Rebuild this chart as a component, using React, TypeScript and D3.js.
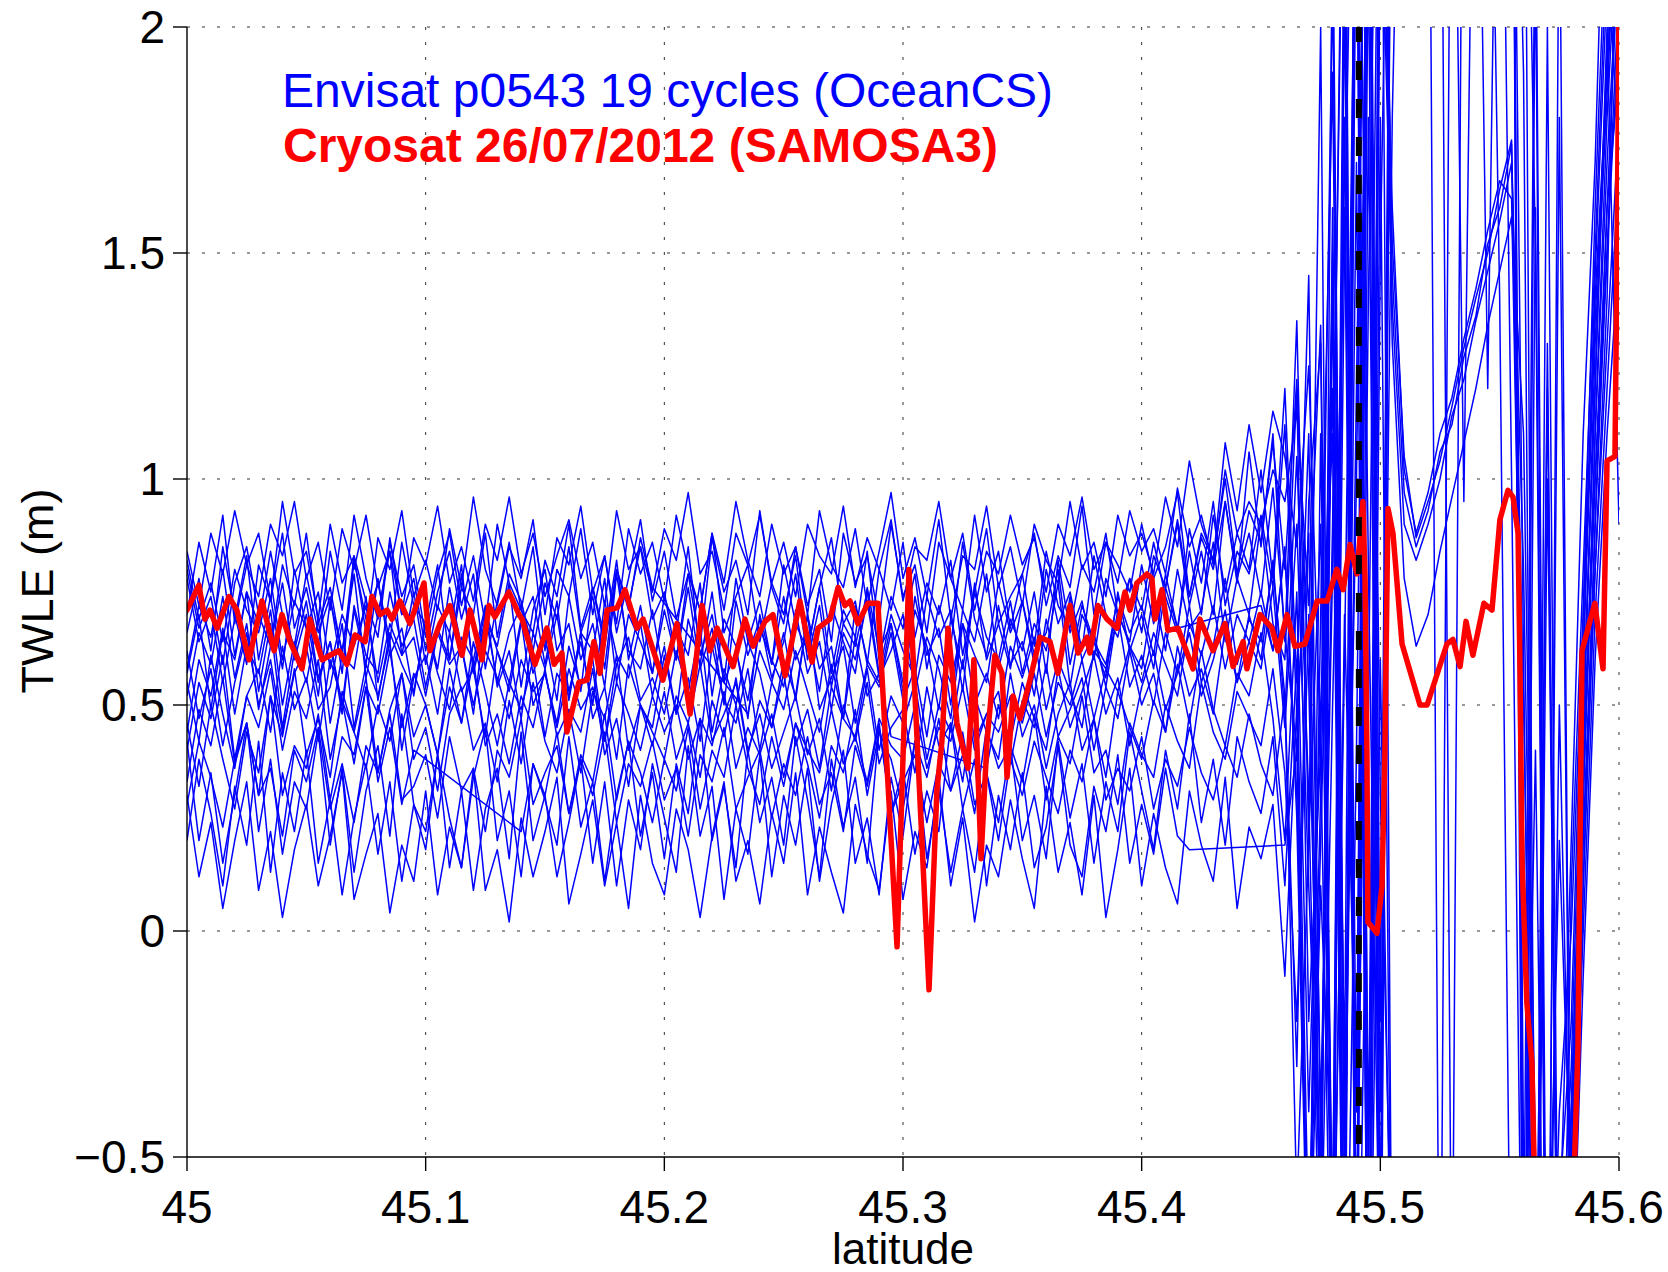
import React from 'react';
import * as d3 from 'd3';

// ---------- DATA ----------
const LAT = [
  45.000, 45.005, 45.010, 45.015, 45.020, 45.025, 45.030, 45.035, 45.040, 45.045,
  45.050, 45.055, 45.060, 45.065, 45.070, 45.075, 45.080, 45.085, 45.090, 45.095,
  45.100, 45.105, 45.110, 45.115, 45.120, 45.125, 45.130, 45.135, 45.140, 45.145,
  45.150, 45.155, 45.160, 45.165, 45.170, 45.175, 45.180, 45.185, 45.190, 45.195,
  45.200, 45.205, 45.210, 45.215, 45.220, 45.225, 45.230, 45.235, 45.240, 45.245,
  45.250, 45.255, 45.260, 45.265, 45.270, 45.275, 45.280, 45.285, 45.290, 45.295,
  45.300, 45.305, 45.310, 45.315, 45.320, 45.325, 45.330, 45.335, 45.340, 45.345,
  45.350, 45.355, 45.360, 45.365, 45.370, 45.375, 45.380, 45.385, 45.390, 45.395,
  45.400, 45.405, 45.410, 45.415, 45.420, 45.425, 45.430, 45.435, 45.440, 45.445,
  45.450, 45.455, 45.460, 45.465, 45.470, 45.475, 45.480, 45.485, 45.490, 45.495,
  45.500, 45.505, 45.510, 45.515, 45.520, 45.525, 45.530, 45.535, 45.540, 45.545,
  45.550, 45.555, 45.560, 45.565, 45.570, 45.575, 45.580, 45.585, 45.590, 45.595,
  45.600,
];

const CYCLE_01 = [
  0.84, 0.72, 0.88, 0.79, 0.93, 0.81, 0.74, 0.90, 0.83, 0.95,
  0.78, 0.86, 0.71, 0.89, 0.80, 0.92, 0.76, 0.84, 0.70, 0.87,
  0.81, 0.94, 0.77, 0.85, 0.73, 0.90, 0.82, 0.96, 0.79, 0.88,
  0.74, 0.83, 0.91, 0.78, 0.86, 0.72, 0.93, 0.80, 0.85, 0.75,
  0.89, 0.82, 0.97, 0.79, 0.84, 0.71, 0.88, 0.81, 0.92, 0.77,
  0.86, 0.74, 0.90, 0.83, 0.79, 0.94, 0.76, 0.87, 0.80, 0.91,
  0.73, 0.85, 0.82, 0.95, 0.78, 0.88, 0.71, 0.84, 0.79, 0.92,
  0.81, 0.87, 0.75, 0.90, 0.83, 0.96, 0.80, 0.86, 0.77, 0.93,
  0.84, 0.89, 0.79, 0.98, 0.85, 0.92, 0.81, 1.02, 0.88, 0.95,
  0.90, 1.02, 0.95, 1.15, 0.72, 1.34, -0.70, 2.40, -0.90, 2.80,
  2.60, 1.45, 0.97, 0.85, 0.93, 1.06, 1.12, 1.27, 1.36, 1.52,
  1.60, 1.74, 0.50, -0.90, -1.60, -1.10, -0.70, 0.40, 1.30, 1.85,
  2.40,
];
const CYCLE_02 = [
  0.66, 0.78, 0.62, 0.85, 0.70, 0.59, 0.81, 0.73, 0.88, 0.67,
  0.76, 0.63, 0.84, 0.71, 0.92, 0.78, 0.69, 0.86, 0.74, 0.81,
  0.65, 0.79, 0.88, 0.72, 0.83, 0.68, 0.90, 0.77, 0.71, 0.85,
  0.62, 0.80, 0.74, 0.89, 0.70, 0.83, 0.66, 0.78, 0.91, 0.73,
  0.84, 0.69, 0.79, 0.63, 0.87, 0.75, 0.82, 0.70, 0.93, 0.76,
  0.68, 0.85, 0.72, 0.80, 0.64, 0.88, 0.77, 0.83, 0.69, 0.90,
  0.74, 0.81, 0.66, 0.86, 0.78, 0.71, 0.92, 0.75, 0.84, 0.67,
  0.79, 0.88, 0.72, 0.83, 0.76, 0.94, 0.70, 0.86, 0.81, 0.75,
  0.90, 0.78, 0.85, 0.97, 0.74, 0.88, 0.82, 1.00, 0.79, 0.93,
  0.86, 1.08, 0.80, 1.22, 0.55, -0.60, 1.60, -0.80, 2.70, -0.50,
  2.50, 1.60, 1.02, 0.88, 0.97, 1.10, 1.18, 1.31, 1.42, 1.55,
  1.66, 1.62, 0.20, -1.00, -1.40, -0.80, -0.30, 0.60, 1.45, 2.10,
  2.60,
];
const CYCLE_03 = [
  0.58, 0.72, 0.65, 0.80, 0.61, 0.75, 0.68, 0.84, 0.70, 0.63,
  0.79, 0.66, 0.74, 0.57, 0.82, 0.69, 0.77, 0.64, 0.86, 0.72,
  0.68, 0.81, 0.60, 0.76, 0.70, 0.88, 0.65, 0.79, 0.73, 0.62,
  0.77, 0.69, 0.85, 0.66, 0.74, 0.58, 0.80, 0.71, 0.87, 0.76,
  null, null, null, null, null, null, null, 0.48, 0.62, 0.55,
  0.66, 0.51, 0.70, 0.58, 0.63, 0.47, 0.72, 0.60, 0.55, 0.68,
  0.53, 0.74, 0.61, 0.67, 0.50, 0.71, 0.64, 0.79, 0.58, 0.69,
  0.62, 0.75, 0.57, 0.82, 0.66, 0.73, 0.60, 0.78, 0.70, 0.64,
  0.81, 0.68, 0.76, 0.90, 0.72, 0.84, 0.70, 0.95, 0.78, 0.88,
  0.74, 0.98, 0.66, 0.40, 1.10, -0.40, 0.90, 2.60, -1.00, 1.80,
  -0.80, 3.00, 3.00, 3.00, 3.00, -1.20, 3.00, 3.00, 3.00, 3.00,
  3.00, 3.00, -0.80, 2.40, -1.20, 1.80, -0.90, 0.10, 0.90, 1.60,
  2.20,
];
const CYCLE_04 = [
  0.78, 0.64, 0.71, 0.55, 0.69, 0.83, 0.60, 0.74, 0.58, 0.80,
  0.67, 0.52, 0.73, 0.62, 0.79, 0.56, 0.70, 0.84, 0.61, 0.75,
  0.59, 0.72, 0.66, 0.81, 0.57, 0.69, 0.63, 0.77, 0.54, 0.71,
  0.80, 0.62, 0.68, 0.53, 0.76, 0.65, 0.82, 0.60, 0.72, 0.57,
  0.74, 0.66, 0.85, 0.61, 0.70, 0.55, 0.78, 0.64, 0.73, 0.59,
  0.81, 0.68, 0.62, 0.76, 0.57, 0.71, 0.65, 0.84, 0.60, 0.74,
  0.67, 0.79, 0.58, 0.72, 0.63, 0.86, 0.69, 0.61, 0.77, 0.66,
  0.73, 0.59, 0.80, 0.68, 0.75, 0.62, 0.83, 0.70, 0.65, 0.78,
  0.71, 0.86, 0.74, 0.66, 0.89, 0.77, 0.95, 0.72, 0.84, 0.79,
  0.92, 0.76, 1.12, 0.48, 0.88, -0.70, 1.40, -0.30, 2.90, -1.20,
  2.40, 1.38, 0.90, 0.82, 0.90, 1.00, 1.14, 1.22, 1.35, 1.46,
  1.57, 1.70, 0.80, -0.70, -1.50, -0.60, -0.20, 0.70, 1.60, 2.30,
  2.00,
];
const CYCLE_05 = [
  0.52, 0.66, 0.59, 0.74, 0.56, 0.68, 0.49, 0.63, 0.77, 0.60,
  0.70, 0.55, 0.64, 0.48, 0.72, 0.61, 0.57, 0.75, 0.63, 0.69,
  0.54, 0.67, 0.60, 0.79, 0.58, 0.71, 0.62, 0.53, 0.68, 0.74,
  0.59, 0.73, 0.51, 0.66, 0.62, 0.78, 0.55, 0.70, 0.64, 0.57,
  0.71, 0.60, 0.76, 0.58, 0.67, 0.50, 0.73, 0.61, 0.69, 0.56,
  0.64, 0.79, 0.60, 0.72, 0.54, 0.68, 0.63, 0.75, 0.57, 0.70,
  0.62, 0.56, 0.74, 0.65, 0.71, 0.53, 0.77, 0.60, 0.68, 0.58,
  0.73, 0.61, 0.66, 0.80, 0.59, 0.72, 0.64, 0.56, 0.75, 0.62,
  0.70, 0.58, 0.76, 0.67, null, null, null, null, null, null,
  0.72, 0.62, 0.84, 0.30, -0.80, 0.70, 1.90, -0.60, 1.20, 3.00,
  -1.00, 3.00, 3.00, 3.00, 3.00, 3.00, 3.00, 3.00, 3.00, 3.00,
  3.00, 3.00, -1.30, 2.20, -1.40, -0.70, 0.20, 1.10, 1.70, 2.60,
  2.30,
];
const CYCLE_06 = [
  0.44, 0.60, 0.52, 0.67, 0.48, 0.63, 0.57, 0.71, 0.50, 0.64,
  0.55, 0.69, 0.46, 0.61, 0.58, 0.74, 0.51, 0.66, 0.59, 0.53,
  0.68, 0.57, 0.49, 0.65, 0.60, 0.72, 0.54, 0.62, 0.47, 0.66,
  0.58, 0.70, 0.53, 0.64, 0.50, 0.73, 0.61, 0.56, 0.68, 0.52,
  0.63, 0.48, 0.69, 0.59, 0.75, 0.55, 0.62, 0.51, 0.67, 0.60,
  0.54, 0.71, 0.57, 0.64, 0.49, 0.66, 0.60, 0.73, 0.56, 0.62,
  0.70, 0.53, 0.65, 0.58, 0.47, 0.68, 0.61, 0.55, 0.72, 0.59,
  0.64, 0.52, 0.69, 0.57, 0.74, 0.60, 0.66, 0.54, 0.71, 0.63,
  0.58, 0.75, 0.62, 0.80, 0.67, 0.71, 0.86, 0.64, 0.78, 0.70,
  0.91, 0.68, 0.60, 1.20, -0.20, 0.40, -1.10, 2.20, -0.40, 3.00,
  2.70, 1.30, 0.78, 0.63, 0.70, 0.84, 0.96, 1.08, 1.20, 1.34,
  1.46, 1.58, 1.10, -0.50, -1.30, -0.90, -0.40, 0.50, 1.20, 1.95,
  2.50,
];
const CYCLE_07 = [
  0.62, 0.47, 0.58, 0.41, 0.55, 0.66, 0.50, 0.60, 0.44, 0.57,
  0.63, 0.49, 0.54, 0.68, 0.45, 0.59, 0.52, 0.64, 0.40, 0.56,
  0.61, 0.48, 0.66, 0.53, 0.58, 0.43, 0.62, 0.55, 0.69, 0.50,
  0.57, 0.46, 0.63, 0.54, 0.60, 0.42, 0.59, 0.65, 0.51, 0.56,
  0.48, 0.62, 0.53, 0.67, 0.44, 0.58, 0.50, 0.64, 0.57, 0.45,
  0.60, 0.52, 0.70, 0.49, 0.56, 0.63, 0.46, 0.59, 0.54, 0.66,
  0.51, 0.58, 0.43, 0.61, 0.55, 0.68, 0.50, 0.57, 0.47, 0.63,
  0.56, 0.65, 0.49, 0.60, 0.53, 0.45, 0.62, 0.58, 0.70, 0.54,
  0.61, 0.50, 0.66, 0.57, 0.72, 0.55, 0.63, 0.78, 0.59, 0.69,
  0.64, 0.80, 0.52, -0.30, 0.95, 1.30, -0.90, 0.60, 2.50, -1.30,
  1.50, 3.00, 3.00, 3.00, 3.00, 3.00, -1.00, 3.00, 3.00, 3.00,
  3.00, 3.00, 1.90, -1.20, -0.60, -1.50, 0.10, 0.80, 1.50, 2.20,
  1.70,
];
const CYCLE_08 = [
  0.40, 0.55, 0.47, 0.61, 0.38, 0.52, 0.58, 0.44, 0.63, 0.49,
  0.56, 0.42, 0.60, 0.51, 0.37, 0.54, 0.48, 0.62, 0.45, 0.57,
  0.50, 0.39, 0.58, 0.46, 0.64, 0.53, 0.41, 0.55, 0.49, 0.60,
  0.43, 0.57, 0.52, 0.66, 0.47, 0.54, 0.38, 0.59, 0.50, 0.45,
  0.61, 0.48, 0.56, 0.42, 0.63, 0.51, 0.46, 0.58, 0.40, 0.55,
  0.49, 0.62, 0.53, 0.44, 0.59, 0.47, 0.65, 0.52, 0.57, 0.43,
  null, null, null, null, null, null, null, 0.36, 0.50, 0.42,
  0.55, 0.47, 0.40, 0.58, 0.45, 0.53, 0.61, 0.48, 0.56, 0.41,
  0.54, 0.62, 0.49, 0.57, 0.66, 0.52, 0.60, 0.71, 0.55, 0.64,
  0.58, 0.76, 0.45, 0.90, 0.10, -0.60, 1.50, -1.00, 3.00, 0.80,
  -0.90, 2.80, 3.00, 3.00, 3.00, 3.00, 3.00, 3.00, 3.00, 3.00,
  1.40, -1.10, -1.40, 1.60, -1.20, -0.40, 0.00, 0.70, 1.40, 1.90,
  2.40,
];
const CYCLE_09 = [
  0.55, 0.42, 0.61, 0.48, 0.36, 0.52, 0.45, 0.58, 0.40, 0.53,
  0.47, 0.60, 0.38, 0.51, 0.44, 0.56, 0.35, 0.49, 0.57, 0.43,
  0.50, 0.39, 0.54, 0.46, 0.60, 0.41, 0.48, 0.37, 0.52, 0.45,
  0.58, 0.43, 0.49, 0.35, 0.53, 0.47, 0.61, 0.40, 0.50, 0.44,
  0.38, 0.52, 0.46, 0.59, 0.42, 0.48, 0.55, 0.39, 0.51, 0.45,
  0.57, 0.41, 0.49, 0.36, 0.54, 0.47, 0.43, 0.58, 0.40, 0.52,
  0.46, 0.55, 0.38, 0.50, 0.44, 0.60, 0.42, 0.48, 0.53, 0.37,
  0.51, 0.45, 0.59, 0.43, 0.49, 0.56, 0.40, 0.54, 0.47, 0.62,
  0.50, 0.57, 0.44, 0.63, 0.52, 0.58, 0.48, 0.67, 0.55, 0.70,
  0.60, 0.82, 0.48, 1.05, 0.30, -0.90, 2.30, -0.50, 1.70, -1.10,
  2.90, 1.52, 1.05, 0.87, 0.95, 1.04, 1.16, 1.29, 1.40, 1.50,
  1.64, 1.75, 0.10, -1.20, -0.80, -1.40, -0.50, 0.30, 1.10, 1.70,
  2.20,
];
const CYCLE_10 = [
  0.33, 0.49, 0.41, 0.56, 0.37, 0.46, 0.30, 0.52, 0.43, 0.58,
  0.39, 0.47, 0.34, 0.53, 0.44, 0.36, 0.50, 0.42, 0.57, 0.38,
  0.45, 0.31, 0.48, 0.54, 0.40, 0.46, 0.33, 0.51, 0.37, 0.55,
  0.42, 0.35, 0.49, 0.44, 0.58, 0.39, 0.47, 0.32, 0.50, 0.41,
  0.53, 0.38, 0.46, 0.34, 0.51, 0.43, 0.56, 0.40, 0.48, 0.36,
  0.44, 0.52, 0.39, 0.47, 0.31, 0.50, 0.42, 0.55, 0.37, 0.45,
  0.49, 0.35, 0.54, 0.41, 0.46, 0.33, 0.52, 0.44, 0.38, 0.57,
  0.43, 0.50, 0.36, 0.48, 0.55, 0.40, 0.47, 0.34, 0.53, 0.45,
  0.38, 0.51, 0.44, 0.59, 0.46, 0.62, 0.49, 0.41, 0.57, 0.52,
  0.66, 0.47, 0.20, 0.75, -0.40, 0.50, 1.10, -1.20, 0.40, 2.60,
  -0.40, 1.80, 3.00, 3.00, 3.00, 3.00, 3.00, 0.95, 3.00, 3.00,
  3.00, 3.00, 3.00, -1.00, 1.20, -1.30, -0.60, 0.30, 1.00, 1.60,
  1.90,
];
const CYCLE_11 = [
  0.46, 0.32, 0.50, 0.38, 0.27, 0.44, 0.35, 0.52, 0.30, 0.41,
  0.36, 0.48, 0.29, 0.43, 0.39, 0.54, 0.33, 0.45, 0.28, 0.40,
  null, null, null, null, null, null, null, null, 0.22, 0.37,
  0.30, 0.44, 0.26, 0.39, 0.33, 0.48, 0.29, 0.42, 0.35, 0.24,
  0.38, 0.31, 0.45, 0.27, 0.40, 0.34, 0.50, 0.36, 0.28, 0.43,
  0.32, 0.46, 0.37, 0.25, 0.41, 0.35, 0.49, 0.30, 0.44, 0.38,
  0.27, 0.42, 0.34, 0.47, 0.31, 0.39, 0.26, 0.45, 0.36, 0.41,
  0.33, 0.48, 0.29, 0.43, 0.37, 0.52, 0.35, 0.40, 0.28, 0.46,
  0.39, 0.34, 0.50, 0.42, 0.36, 0.55, 0.44, 0.38, 0.53, 0.47,
  0.41, 0.58, 0.35, -0.20, 0.70, -0.80, 0.50, 1.60, -0.70, 2.20,
  -1.20, 3.00, 3.00, 3.00, 3.00, 3.00, 3.00, 3.00, 3.00, 3.00,
  3.00, 3.00, -0.50, -1.30, 2.00, -1.20, -0.40, 0.20, 0.90, 1.50,
  2.00,
];
const CYCLE_12 = [
  0.28, 0.42, 0.34, 0.23, 0.38, 0.46, 0.30, 0.36, 0.21, 0.40,
  0.33, 0.45, 0.27, 0.37, 0.24, 0.41, 0.35, 0.48, 0.29, 0.32,
  0.39, 0.25, 0.43, 0.31, 0.36, 0.22, 0.40, 0.34, 0.47, 0.28,
  0.35, 0.41, 0.26, 0.38, 0.30, 0.44, 0.24, 0.37, 0.32, 0.42,
  0.29, 0.36, 0.21, 0.39, 0.33, 0.45, 0.27, 0.34, 0.40, 0.25,
  0.37, 0.30, 0.43, 0.28, 0.35, 0.22, 0.41, 0.32, 0.46, 0.26,
  0.33, 0.39, 0.24, 0.37, 0.31, 0.44, 0.28, 0.35, 0.20, 0.38,
  0.30, 0.42, 0.34, 0.26, 0.40, 0.33, 0.47, 0.29, 0.36, 0.31,
  0.43, 0.27, 0.38, 0.32, 0.45, 0.35, 0.29, 0.41, 0.34, 0.48,
  0.37, 0.30, 0.52, -0.60, 0.20, 0.90, -1.00, 2.10, -0.80, 1.40,
  3.00, -1.00, -1.50, -1.50, -1.50, -1.50, -1.50, -1.50, -1.50, -1.50,
  -1.50, -1.50, -1.50, -1.20, -1.40, -0.90, -0.50, 0.20, 0.80, 1.30,
  1.80,
];
const CYCLE_13 = [
  0.42, 0.20, 0.35, 0.15, 0.30, 0.46, 0.22, 0.38, 0.17, 0.33,
  0.27, 0.44, 0.19, 0.36, 0.13, 0.31, 0.41, 0.21, 0.48, 0.28,
  0.18, 0.39, 0.25, 0.14, 0.34, 0.45, 0.20, 0.31, 0.12, 0.37,
  0.29, 0.19, 0.43, 0.23, 0.33, 0.11, 0.30, 0.42, 0.21, 0.35,
  0.16, 0.37, 0.26, 0.47, 0.20, 0.32, 0.14, 0.40, 0.24, 0.34,
  0.19, 0.43, 0.29, 0.12, 0.38, 0.23, 0.34, 0.15, 0.45, 0.26,
  0.36, 0.17, 0.31, 0.22, 0.46, 0.27, 0.13, 0.35, 0.24, 0.41,
  0.20, 0.30, 0.16, 0.42, 0.25, 0.37, 0.15, 0.33, 0.22, 0.44,
  0.31, 0.18, 0.40, 0.27, 0.48, 0.24, 0.38, 0.19, 0.43, 0.33,
  0.26, 0.43, 0.10, 0.60, -0.70, 0.30, 1.40, -1.10, 2.80, -0.60,
  2.20, 3.00, 3.00, 3.00, 3.00, 3.00, 3.00, 3.00, 3.00, 3.00,
  3.00, 1.00, -1.20, -1.50, 1.00, -1.10, -0.70, 0.00, 0.70, 1.20,
  1.70,
];
const CYCLE_14 = [
  0.20, 0.38, 0.26, 0.10, 0.32, 0.19, 0.42, 0.13, 0.35, 0.22,
  0.40, 0.15, 0.29, 0.08, 0.25, 0.37, 0.17, 0.33, 0.11, 0.28,
  0.22, 0.39, 0.14, 0.31, 0.09, 0.27, 0.36, 0.16, 0.44, 0.20,
  0.30, 0.12, 0.24, 0.38, 0.15, 0.33, 0.10, 0.29, 0.18, 0.37,
  0.25, 0.13, 0.41, 0.21, 0.32, 0.07, 0.27, 0.17, 0.39, 0.12,
  0.30, 0.19, 0.36, 0.11, 0.28, 0.40, 0.15, 0.25, 0.08, 0.34,
  0.21, 0.42, 0.16, 0.31, 0.13, 0.27, 0.38, 0.10, 0.30, 0.18,
  0.35, 0.14, 0.23, 0.41, 0.19, 0.12, 0.32, 0.22, 0.39, 0.15,
  0.28, 0.17, 0.36, 0.21, 0.18, null, null, null, null, null,
  null, null, 0.19, 0.40, -0.80, 0.20, 1.20, -0.90, 2.40, -1.20,
  0.60, -1.00, -1.50, -1.50, -1.50, -1.50, -1.50, -1.50, -1.50, -1.50,
  -1.50, -1.50, -1.50, -1.30, -1.00, -1.40, -0.40, 0.40, 1.00, 1.50,
  2.10,
];
const CYCLE_15 = [
  0.30, 0.12, 0.24, 0.05, 0.20, 0.33, 0.09, 0.22, 0.03, 0.18,
  0.28, 0.10, 0.21, 0.35, 0.07, 0.17, 0.26, 0.04, 0.19, 0.11,
  0.31, 0.08, 0.23, 0.14, 0.36, 0.09, 0.18, 0.02, 0.25, 0.12,
  0.22, 0.34, 0.06, 0.17, 0.29, 0.10, 0.24, 0.05, 0.30, 0.15,
  0.08, 0.27, 0.18, 0.03, 0.21, 0.33, 0.11, 0.20, 0.06, 0.26,
  0.15, 0.35, 0.08, 0.23, 0.13, 0.04, 0.28, 0.17, 0.09, 0.31,
  0.07, 0.22, 0.14, 0.34, 0.10, 0.25, 0.02, 0.19, 0.12, 0.29,
  0.16, 0.05, 0.32, 0.13, 0.24, 0.08, 0.30, 0.03, 0.18, 0.36,
  0.10, 0.26, 0.14, 0.06, 0.31, 0.19, 0.11, 0.34, 0.05, 0.23,
  0.16, 0.28, -0.10, 0.50, -0.90, 0.10, -0.60, 1.80, -1.00, 2.60,
  -0.70, 3.00, 3.00, 3.00, 3.00, 3.00, 3.00, 3.00, 3.00, 3.00,
  3.00, 3.00, 0.60, -1.40, -0.90, -1.20, -0.80, 0.10, 0.80, 1.40,
  2.50,
];
const CYCLE_16 = [
  0.70, 0.86, 0.75, 0.92, 0.68, 0.81, 0.88, 0.73, 0.95, 0.79,
  0.84, 0.69, 0.90, 0.77, 0.83, 0.66, 0.87, 0.80, 0.93, 0.74,
  0.82, 0.71, 0.89, 0.76, 0.96, 0.80, 0.72, 0.85, 0.78, 0.91,
  0.70, 0.87, 0.81, 0.94, 0.75, 0.83, 0.68, 0.89, 0.79, 0.86,
  0.73, 0.92, 0.80, 0.71, 0.88, 0.77, 0.95, 0.82, 0.74, 0.90,
  0.79, 0.85, 0.70, 0.93, 0.81, 0.76, 0.89, 0.72, 0.84, 0.97,
  0.78, 0.87, 0.74, 0.91, 0.69, 0.83, 0.80, 0.94, 0.76, 0.85,
  0.72, 0.90, 0.82, 0.77, 0.95, 0.80, 0.86, 0.74, 0.92, 0.83,
  0.88, 0.79, 0.96, 0.85, 1.04, 0.90, 0.82, 1.08, 0.93, 1.12,
  0.97, 1.15, 1.05, 0.85, 1.25, 0.40, 2.10, -0.40, 1.00, 3.00,
  -0.20, 3.00, 3.00, 3.00, 3.00, 3.00, 3.00, 3.00, 3.00, 1.20,
  3.00, 3.00, 3.00, 1.50, -1.30, 0.50, -0.70, 0.50, 1.20, 2.00,
  0.90,
];
const CYCLE_17 = [
  0.80, 0.67, 0.74, 0.59, 0.77, 0.85, 0.70, 0.63, 0.81, 0.72,
  0.88, 0.68, 0.76, 0.61, 0.83, 0.73, 0.65, 0.87, 0.70, 0.78,
  0.62, 0.75, 0.84, 0.69, 0.79, 0.58, 0.73, 0.86, 0.71, 0.66,
  0.82, 0.74, 0.90, 0.67, 0.76, 0.63, 0.80, 0.72, 0.85, 0.69,
  0.75, 0.60, 0.79, 0.71, 0.88, 0.66, 0.74, 0.81, 0.64, 0.77,
  0.70, 0.83, 0.62, 0.76, 0.87, 0.68, 0.73, 0.59, 0.80, 0.71,
  0.86, 0.65, 0.77, 0.70, 0.82, 0.61, 0.75, 0.89, 0.68, 0.74,
  0.79, 0.63, 0.84, 0.72, 0.67, 0.81, 0.75, 0.88, 0.70, 0.78,
  0.66, 0.83, 0.76, 0.91, 0.74, 0.87, 0.80, 0.95, 0.77, 1.06,
  0.85, 1.10, 0.64, 1.35, 0.20, 2.00, -1.00, 0.70, -0.40, 2.50,
  0.30, -0.80, -1.50, -1.50, -1.50, -1.50, -1.50, -1.50, -1.50, -1.50,
  -1.50, -1.50, -1.50, -1.50, -0.90, 0.20, -0.60, 0.60, 1.35, 1.90,
  2.40,
];
const CYCLE_18 = [
  0.57, 0.70, 0.49, 0.66, 0.60, 0.75, 0.53, 0.68, 0.45, 0.62,
  0.73, 0.56, 0.64, 0.50, 0.71, 0.59, 0.78, 0.61, 0.67, 0.52,
  0.69, 0.58, 0.76, 0.63, 0.48, 0.70, 0.55, 0.66, 0.72, 0.57,
  0.65, 0.51, 0.74, 0.60, 0.68, 0.54, 0.79, 0.62, 0.58, 0.71,
  0.56, 0.67, 0.61, 0.77, 0.52, 0.69, 0.63, 0.47, 0.70, 0.59,
  0.74, 0.60, 0.66, 0.53, 0.72, 0.64, 0.57, 0.76, 0.62, 0.68,
  0.55, 0.71, 0.63, 0.49, 0.69, 0.58, 0.75, 0.65, 0.60, 0.73,
  0.57, 0.68, 0.62, 0.77, 0.54, 0.70, 0.64, 0.59, 0.74, 0.66,
  0.72, 0.61, 0.79, 0.67, 0.84, 0.70, 0.92, 0.75, 0.88, 0.80,
  1.02, 0.78, 1.20, 0.55, 1.45, -0.50, 0.80, 2.80, -1.30, 0.50,
  2.80, 3.00, 3.00, 3.00, 3.00, 3.00, 3.00, 3.00, 3.00, 3.00,
  3.00, 3.00, -1.00, 0.40, -1.50, 2.40, -1.00, 0.30, 1.10, 1.80,
  2.30,
];
const CYCLE_19 = [
  0.82, 0.69, 0.77, 0.64, 0.80, 0.71, 0.66, 0.78, 0.60, 0.73,
  0.67, 0.75, 0.58, 0.70, 0.63, 0.72, 0.55, 0.68, 0.61, 0.65,
  0.52, 0.66, 0.59, 0.63, 0.50, 0.62, 0.56, 0.47, 0.60, 0.53,
  0.57, 0.45, 0.58, 0.49, 0.54, 0.42, 0.55, 0.48, 0.40, 0.52,
  0.44, 0.50, 0.38, 0.47, 0.41, 0.53, 0.36, 0.45, 0.39, 0.48,
  0.34, 0.46, 0.40, 0.35, 0.49, 0.37, 0.43, 0.33, 0.47, 0.41,
  0.38, 0.50, 0.36, 0.45, 0.42, 0.54, 0.40, 0.48, 0.44, 0.52,
  0.46, 0.57, 0.43, 0.55, 0.50, 0.60, 0.47, 0.58, 0.53, 0.63,
  0.55, 0.66, 0.59, 0.52, 0.68, 0.61, 0.72, 0.58, 0.70, 0.64,
  0.75, 0.62, 0.85, 0.25, -0.90, 1.10, -0.70, 1.50, 3.00, -1.00,
  1.80, -1.10, -1.50, -1.50, -1.50, -1.50, -1.50, -1.50, -1.50, -1.50,
  -1.50, -1.50, -1.50, -1.40, 1.30, -1.30, -0.90, -0.10, 0.60, 1.10,
  1.50,
];

const ENVISAT_CYCLES = [
  CYCLE_01, CYCLE_02, CYCLE_03, CYCLE_04, CYCLE_05, CYCLE_06, CYCLE_07,
  CYCLE_08, CYCLE_09, CYCLE_10, CYCLE_11, CYCLE_12, CYCLE_13, CYCLE_14,
  CYCLE_15, CYCLE_16, CYCLE_17, CYCLE_18, CYCLE_19,
];

const CRYO_LAT = [
  45.0000, 45.0050, 45.0075, 45.0096, 45.0126, 45.0176, 45.0209, 45.0260, 45.0314, 45.0365,
  45.0398, 45.0432, 45.0482, 45.0515, 45.0566, 45.0599, 45.0637, 45.0670, 45.0704, 45.0746,
  45.0775, 45.0809, 45.0838, 45.0859, 45.0892, 45.0934, 45.0993, 45.1018, 45.1060, 45.1102,
  45.1152, 45.1186, 45.1236, 45.1265, 45.1290, 45.1349, 45.1391, 45.1404, 45.1458, 45.1508,
  45.1538, 45.1571, 45.1592, 45.1642, 45.1676, 45.1705, 45.1730, 45.1760, 45.1802, 45.1835,
  45.1885, 45.1911, 45.1994, 45.2053, 45.2108, 45.2158, 45.2191, 45.2221, 45.2288, 45.2338,
  45.2372, 45.2422, 45.2455, 45.2506, 45.2568, 45.2619, 45.2644, 45.2694, 45.2728, 45.2757,
  45.2778, 45.2811, 45.2853, 45.2895, 45.2975, 45.3025, 45.3109, 45.3142, 45.3163, 45.3189,
  45.3226, 45.3272, 45.3297, 45.3327, 45.3352, 45.3385, 45.3415, 45.3436, 45.3461, 45.3490,
  45.3532, 45.3574, 45.3616, 45.3649, 45.3700, 45.3733, 45.3771, 45.3783, 45.3817, 45.3855,
  45.3897, 45.3930, 45.3951, 45.3980, 45.4022, 45.4043, 45.4056, 45.4085, 45.4110, 45.4152,
  45.4215, 45.4244, 45.4299, 45.4349, 45.4383, 45.4425, 45.4441, 45.4496, 45.4546, 45.4571,
  45.4609, 45.4642, 45.4684, 45.4735, 45.4777, 45.4818, 45.4844, 45.4873, 45.4902, 45.4927,
  45.4936, 45.4944, 45.4948, 45.4986, 45.5007, 45.5019, 45.5032, 45.5053, 45.5091, 45.5166,
  45.5196, 45.5279, 45.5304, 45.5334, 45.5359, 45.5388, 45.5434, 45.5468, 45.5501, 45.5535,
  45.5556, 45.5577, 45.5585, 45.5594, 45.5614, 45.5635, 45.5652, 45.5803, 45.5828, 45.5845,
  45.5899, 45.5933, 45.5950, 45.5983, 45.5992, 45.6004,
];
const CRYO_TWLE = [
  0.71, 0.765, 0.69, 0.71, 0.67, 0.74, 0.71, 0.60, 0.73, 0.62,
  0.70, 0.64, 0.58, 0.69, 0.60, 0.61, 0.62, 0.59, 0.655, 0.64,
  0.74, 0.70, 0.71, 0.69, 0.73, 0.68, 0.77, 0.62, 0.68, 0.72,
  0.61, 0.71, 0.60, 0.72, 0.695, 0.75, 0.70, 0.69, 0.59, 0.67,
  0.59, 0.615, 0.44, 0.55, 0.555, 0.64, 0.57, 0.71, 0.715, 0.755,
  0.67, 0.69, 0.555, 0.68, 0.48, 0.72, 0.62, 0.67, 0.585, 0.69,
  0.63, 0.685, 0.70, 0.565, 0.73, 0.595, 0.67, 0.69, 0.76, 0.72,
  0.73, 0.68, 0.725, 0.725, -0.035, 0.80, -0.13, 0.31, 0.42, 0.67,
  0.46, 0.36, 0.60, 0.16, 0.42, 0.61, 0.57, 0.34, 0.52, 0.47,
  0.555, 0.65, 0.64, 0.57, 0.72, 0.615, 0.65, 0.615, 0.72, 0.69,
  0.67, 0.75, 0.71, 0.77, 0.79, 0.78, 0.69, 0.755, 0.665, 0.67,
  0.58, 0.69, 0.62, 0.68, 0.585, 0.64, 0.58, 0.70, 0.67, 0.62,
  0.70, 0.63, 0.635, 0.73, 0.73, 0.80, 0.755, 0.855, 0.79, 0.95,
  0.78, 0.39, 0.02, -0.005, 0.10, 0.39, 0.935, 0.88, 0.635, 0.50,
  0.50, 0.635, 0.645, 0.585, 0.685, 0.61, 0.725, 0.71, 0.91, 0.975,
  0.96, 0.88, 0.585, 0.15, -0.16, -0.29, -0.70, -0.70, -0.26, 0.62,
  0.725, 0.58, 1.04, 1.05, 1.50, 2.30,
];

const COAST_LAT = 45.491;
const X_TICKS = [45, 45.1, 45.2, 45.3, 45.4, 45.5, 45.6];
const Y_TICKS = [-0.5, 0, 0.5, 1, 1.5, 2];
const LEGEND_ENVISAT = 'Envisat p0543 19 cycles (OceanCS)';
const LEGEND_CRYOSAT = 'Cryosat 26/07/2012 (SAMOSA3)';
const X_LABEL = 'latitude';
const Y_LABEL = 'TWLE (m)';

// ---------- COMPONENT ----------
const W = 1668;
const H = 1272;
const M = { left: 187, right: 1619, top: 27, bottom: 1157 };
const FONT = '"Liberation Sans", Arial, Helvetica, sans-serif';

const fmt = (v: number) => {
  const s = String(v);
  return v < 0 ? '\u2212' + s.slice(1) : s;
};

export default function App() {
  const x = d3.scaleLinear().domain([45, 45.6]).range([M.left, M.right]);
  const y = d3.scaleLinear().domain([-0.5, 2]).range([M.bottom, M.top]);
  const line = d3
    .line<[number, number]>()
    .x((d) => x(d[0]))
    .y((d) => y(d[1]));

  const bluePaths = ENVISAT_CYCLES.map((c) => {
    const pts: [number, number][] = [];
    LAT.forEach((la, i) => {
      const v = c[i];
      if (v !== null && v !== undefined) pts.push([la, v as number]);
    });
    return line(pts) || '';
  });

  const redPts: [number, number][] = CRYO_LAT.map((la, i) => [la, CRYO_TWLE[i]]);
  const redPath = line(redPts) || '';

  const tickLen = 14;

  return (
    <svg
      width={W}
      height={H}
      viewBox={`0 0 ${W} ${H}`}
      style={{ position: 'fixed', left: 0, top: 0, background: '#fff' }}
      fontFamily={FONT}
    >
      <defs>
        <clipPath id="plotClip">
          <rect x={M.left} y={M.top} width={M.right - M.left} height={M.bottom - M.top} />
        </clipPath>
      </defs>
      <rect x={0} y={0} width={W} height={H} fill="#fff" />

      {/* grid */}
      <g stroke="#333" strokeWidth={1} strokeDasharray="3,12">
        {Y_TICKS.filter((t) => t !== -0.5).map((t) => (
          <line key={'gy' + t} x1={M.left} x2={M.right} y1={y(t)} y2={y(t)} />
        ))}
        {X_TICKS.filter((t) => t !== 45).map((t) => (
          <line key={'gx' + t} x1={x(t)} x2={x(t)} y1={M.top} y2={M.bottom} />
        ))}
      </g>

      {/* data */}
      <g clipPath="url(#plotClip)">
        <g fill="none" stroke="#0000ff" strokeWidth={1.5} strokeLinejoin="round">
          {bluePaths.map((d, i) => (
            <path key={'c' + i} d={d} />
          ))}
        </g>
        <path
          d={redPath}
          fill="none"
          stroke="#ff0000"
          strokeWidth={5.5}
          strokeLinejoin="round"
          strokeLinecap="round"
        />
        <line
          x1={x(COAST_LAT)}
          x2={x(COAST_LAT)}
          y1={M.top}
          y2={M.bottom}
          stroke="#000"
          strokeWidth={6}
          strokeDasharray="19,19"
          strokeDashoffset={4}
        />
      </g>

      {/* axes */}
      <g stroke="#000" strokeWidth={1.4} fill="none">
        <line x1={M.left} x2={M.left} y1={M.top} y2={M.bottom} />
        <line x1={M.left} x2={M.right} y1={M.bottom} y2={M.bottom} />
        {Y_TICKS.map((t) => (
          <line key={'ty' + t} x1={M.left - tickLen} x2={M.left} y1={y(t)} y2={y(t)} />
        ))}
        {X_TICKS.map((t) => (
          <line key={'tx' + t} x1={x(t)} x2={x(t)} y1={M.bottom} y2={M.bottom + tickLen} />
        ))}
      </g>

      {/* tick labels */}
      <g fontSize={46} fill="#000">
        {Y_TICKS.map((t) => (
          <text key={'ly' + t} x={M.left - 22} y={y(t) + 16} textAnchor="end">
            {fmt(t)}
          </text>
        ))}
        {X_TICKS.map((t) => (
          <text key={'lx' + t} x={x(t)} y={1223} textAnchor="middle">
            {fmt(t)}
          </text>
        ))}
      </g>

      {/* axis labels */}
      <text x={903} y={1264} textAnchor="middle" fontSize={44} fill="#000">
        {X_LABEL}
      </text>
      <text
        transform={`translate(53, 591) rotate(-90)`}
        textAnchor="middle"
        fontSize={45}
        fill="#000"
      >
        {Y_LABEL}
      </text>

      {/* legend text */}
      <text x={282} y={107} fontSize={48} fill="#0000ff">
        {LEGEND_ENVISAT}
      </text>
      <text x={283} y={162} fontSize={48} fontWeight="bold" fill="#ff0000">
        {LEGEND_CRYOSAT}
      </text>
    </svg>
  );
}
